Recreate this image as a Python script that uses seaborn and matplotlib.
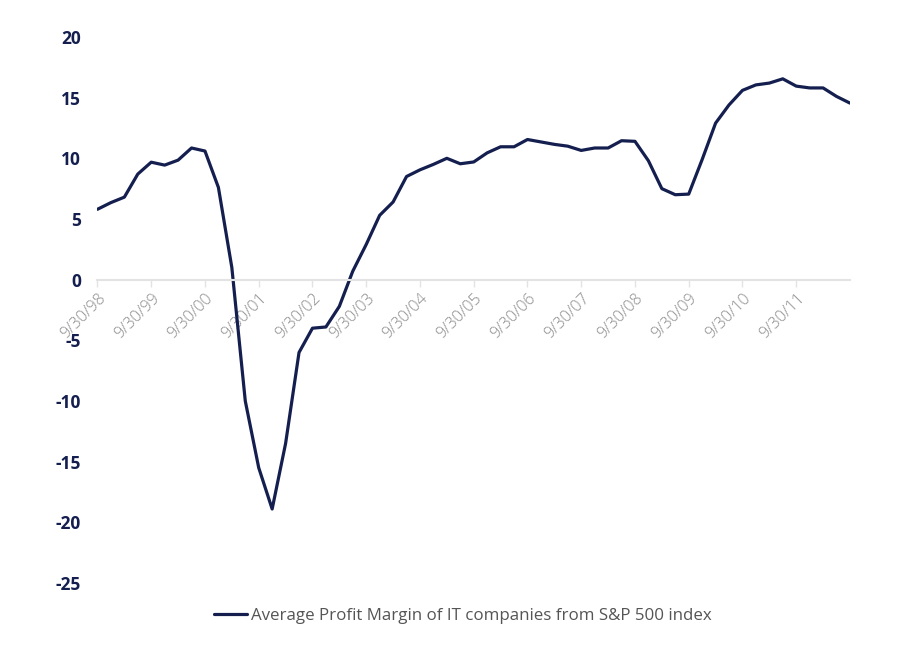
import matplotlib
matplotlib.use("Agg")
import matplotlib.pyplot as plt
import seaborn as sns
import pandas as pd

quarters = [
    "9/30/98", "12/31/98", "3/31/99", "6/30/99",
    "9/30/99", "12/31/99", "3/31/00", "6/30/00",
    "9/30/00", "12/31/00", "3/31/01", "6/30/01",
    "9/30/01", "12/31/01", "3/31/02", "6/30/02",
    "9/30/02", "12/31/02", "3/31/03", "6/30/03",
    "9/30/03", "12/31/03", "3/31/04", "6/30/04",
    "9/30/04", "12/31/04", "3/31/05", "6/30/05",
    "9/30/05", "12/31/05", "3/31/06", "6/30/06",
    "9/30/06", "12/31/06", "3/31/07", "6/30/07",
    "9/30/07", "12/31/07", "3/31/08", "6/30/08",
    "9/30/08", "12/31/08", "3/31/09", "6/30/09",
    "9/30/09", "12/31/09", "3/31/10", "6/30/10",
    "9/30/10", "12/31/10", "3/31/11", "6/30/11",
    "9/30/11", "12/31/11", "3/31/12", "6/30/12",
    "9/30/12",
]
profit_margin = [
    5.8, 6.35, 6.8, 8.7,
    9.68, 9.44, 9.85, 10.85,
    10.6, 7.6, 1.0, -10.0,
    -15.5, -18.9, -13.5, -6.0,
    -4.0, -3.9, -2.2, 0.7,
    2.9, 5.3, 6.4, 8.5,
    9.05, 9.5, 10.0, 9.55,
    9.7, 10.45, 10.95, 10.95,
    11.55, 11.35, 11.15, 11.0,
    10.65, 10.85, 10.85, 11.45,
    11.4, 9.8, 7.5, 7.0,
    7.05, 9.9, 12.9, 14.4,
    15.6, 16.05, 16.2, 16.55,
    15.95, 15.8, 15.8, 15.1,
    14.55,
]
series_name = "Average Profit Margin of IT companies from S&P 500 index"
y_ticks = [20, 15, 10, 5, 0, -5, -10, -15, -20, -25]

df = pd.DataFrame({"idx": range(len(quarters)), "value": profit_margin})

sns.set_theme(style="white")
plt.rcParams["font.family"] = ["Open Sans", "DejaVu Sans"]

navy = "#141f4f"
fig = plt.figure(figsize=(9, 6.52), dpi=100)
ax = fig.add_axes([0.1083, 0.1058, 0.8361, 0.8375])

sns.lineplot(data=df, x="idx", y="value", ax=ax, color=navy, linewidth=2.3,
             label=series_name, legend=False, solid_joinstyle="round",
             solid_capstyle="round")

for s in ["top", "right", "left"]:
    ax.spines[s].set_visible(False)
ax.spines["bottom"].set_position(("data", 0))
ax.spines["bottom"].set_color("#e3e3e3")
ax.spines["bottom"].set_linewidth(1.5)

ax.set_xlim(0, len(quarters) - 1)
ax.set_ylim(-25, 20)
ax.set_yticks(y_ticks)
ax.set_yticklabels([str(v) for v in y_ticks], fontsize=12.5, fontweight="bold", color=navy)

tick_pos = list(range(0, len(quarters) - 1, 4))
ax.set_xticks(tick_pos)
ax.set_xticklabels([quarters[i] for i in tick_pos], fontsize=11.5,
                   color="#8a8a8a", fontweight="light")
ax.tick_params(axis="x", which="both", bottom=True, length=5, width=1,
               color="#e3e3e3", pad=3, labelrotation=45)
for lbl in ax.get_xticklabels():
    lbl.set_ha("right")
    lbl.set_rotation_mode("anchor")
ax.tick_params(axis="y", length=0, pad=12)
ax.set_xlabel("")
ax.set_ylabel("")
ax.grid(False)

handles, labels = ax.get_legend_handles_labels()
fig.legend(handles, labels, loc="center", bbox_to_anchor=(0.514, 1 - 616 / 652),
           frameon=False, fontsize=12.2, handlelength=2.0, handletextpad=0.2,
           labelcolor="#555555")

fig.savefig("out.png", dpi=100)
